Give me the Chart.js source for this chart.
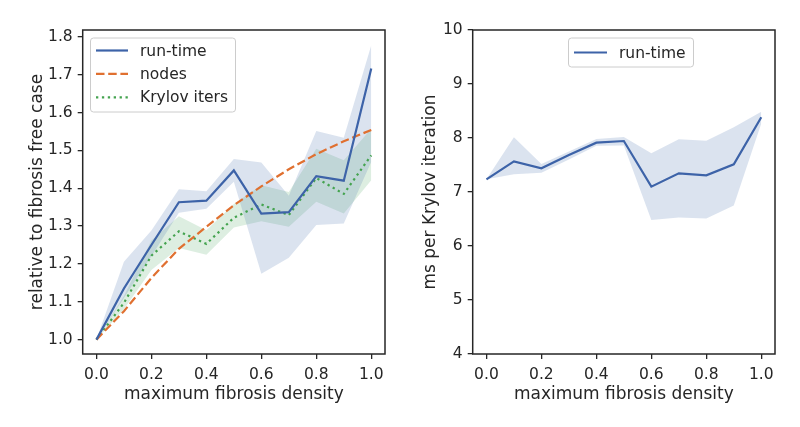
<!DOCTYPE html>
<html>
<head>
<meta charset="utf-8">
<script src="https://cdn.jsdelivr.net/npm/chart.js@4.4.1/dist/chart.umd.min.js"></script>
<style>
  body { margin: 0; background: #fff; }
  .panel { position: absolute; top: 0; width: 400px; height: 427px; }
</style>
</head>
<body>
<div class="panel" style="left:0"><canvas id="leftChart" width="400" height="427"></canvas></div>
<div class="panel" style="left:400px"><canvas id="rightChart" width="400" height="427"></canvas></div>
<script>
// maximum fibrosis density
const density = [0.0, 0.1, 0.2, 0.3, 0.4, 0.5, 0.6, 0.7, 0.8, 0.9, 1.0];

// left panel: relative to fibrosis free case
const runTime   = [1.0, 1.135, 1.25, 1.363, 1.367, 1.447, 1.333, 1.337, 1.432, 1.42, 1.716];
const runTimeHi = [1.0, 1.206, 1.288, 1.397, 1.392, 1.477, 1.468, 1.38, 1.551, 1.533, 1.778];
const runTimeLo = [1.0, 1.11, 1.22, 1.335, 1.346, 1.417, 1.174, 1.216, 1.303, 1.307, 1.47];
const nodes     = [1.0, 1.075, 1.163, 1.24, 1.298, 1.355, 1.405, 1.45, 1.49, 1.524, 1.554];
const krylov    = [1.0, 1.097, 1.222, 1.286, 1.253, 1.322, 1.357, 1.329, 1.427, 1.385, 1.487];
const krylovHi  = [1.0, 1.115, 1.262, 1.326, 1.289, 1.358, 1.408, 1.39, 1.504, 1.474, 1.557];
const krylovLo  = [1.0, 1.08, 1.184, 1.242, 1.224, 1.296, 1.313, 1.298, 1.364, 1.333, 1.421];

// right panel: ms per Krylov iteration
const msPerIter   = [7.235, 7.568, 7.438, 7.685, 7.914, 7.944, 7.099, 7.346, 7.309, 7.512, 8.383];
const msPerIterHi = [7.235, 8.012, 7.52, 7.75, 7.98, 8.02, 7.716, 7.975, 7.95, 8.198, 8.488];
const msPerIterLo = [7.235, 7.327, 7.358, 7.60, 7.858, 7.86, 6.48, 6.53, 6.51, 6.75, 8.27];

// tick labels
const xTicks = [0.0, 0.2, 0.4, 0.6, 0.8, 1.0];
const leftYTicks = [1.0, 1.1, 1.2, 1.3, 1.4, 1.5, 1.6, 1.7, 1.8];
const rightYTicks = [4, 5, 6, 7, 8, 9, 10];

const INK = '#262626';
const FONT = 'DejaVu Sans';
const BLUE = '#3d63a8';
const ORANGE = '#e07030';
const GREEN = '#44a34f';
const BLUE_BAND = 'rgba(76,114,176,0.2)';
const GREEN_BAND = 'rgba(85,168,104,0.2)';

function pts(ys) {
    return ys.map((y, i) => ({x: density[i], y: y}));
}

function line(label, ys, color, dash) {
    return {
        label: label, data: pts(ys), borderColor: color, borderWidth: 2.2,
        borderDash: dash || [], borderCapStyle: 'butt', pointRadius: 0,
        fill: false, tension: 0
    };
}

function band(hi, lo, color) {
    return [
        {label: '_hi', data: pts(hi), borderWidth: 0, pointRadius: 0, backgroundColor: color, fill: '+1'},
        {label: '_lo', data: pts(lo), borderWidth: 0, pointRadius: 0, fill: false}
    ];
}

// box around the plot area, like matplotlib spines
const framePlugin = {
    id: 'frame',
    afterDraw(chart) {
        const a = chart.chartArea, ctx = chart.ctx;
        ctx.save();
        ctx.strokeStyle = INK;
        ctx.lineWidth = 1.5;
        ctx.strokeRect(a.left, a.top, a.right - a.left, a.bottom - a.top);
        ctx.restore();
    }
};

// legend drawn inside the axes
const boxLegend = {
    id: 'boxLegend',
    afterDraw(chart, args, opts) {
        const ctx = chart.ctx;
        ctx.save();
        ctx.fillStyle = 'rgba(255,255,255,0.8)';
        ctx.strokeStyle = '#cccccc';
        ctx.lineWidth = 1;
        ctx.beginPath();
        ctx.roundRect(opts.x + 0.5, opts.y + 0.5, opts.w, opts.h, 3);
        ctx.fill();
        ctx.stroke();
        ctx.font = '15.5px "' + FONT + '"';
        ctx.textBaseline = 'middle';
        opts.items.forEach((it, i) => {
            const y = opts.rowY + i * opts.rowGap;
            ctx.strokeStyle = it.color;
            ctx.lineWidth = 2.2;
            ctx.setLineDash(it.dash || []);
            ctx.beginPath();
            ctx.moveTo(opts.hx0, y);
            ctx.lineTo(opts.hx1, y);
            ctx.stroke();
            ctx.setLineDash([]);
            ctx.fillStyle = INK;
            ctx.fillText(it.label, opts.tx, y + 1);
        });
        ctx.restore();
    }
};

function axisCommon(min, max, ticks, fmt, title, titlePad, fitFn, tickPad) {
    return {
        type: 'linear', min: min, max: max,
        afterBuildTicks: s => { s.ticks = ticks.map(v => ({value: v})); },
        afterFit: fitFn,
        border: {display: false},
        grid: {display: true, drawOnChartArea: false, drawTicks: true, tickLength: 5, color: INK, lineWidth: 1.3},
        ticks: {
            color: INK, padding: tickPad, maxRotation: 0, autoSkip: false,
            font: {family: FONT, size: 15.5},
            callback: v => fmt(v)
        },
        title: {display: true, text: title, color: INK, font: {family: FONT, size: 17}, padding: titlePad}
    };
}

function makeChart(id, datasets, yMin, yMax, yTicks, yFmt, yTitle, yTitlePad, yWidth, padRight, legendOpts) {
    return new Chart(document.getElementById(id), {
        type: 'line',
        data: {datasets: datasets},
        options: {
            responsive: false,
            animation: false,
            layout: {padding: {top: 30, right: padRight, left: 0, bottom: 0}},
            plugins: {
                legend: {display: false},
                tooltip: {enabled: false},
                boxLegend: legendOpts
            },
            scales: {
                x: axisCommon(-0.05, 1.05, xTicks, v => v.toFixed(1), 'maximum fibrosis density',
                    {top: 0, bottom: 22}, s => { s.height = 73; }, 7),
                y: axisCommon(yMin, yMax, yTicks, yFmt, yTitle, yTitlePad, s => { s.width = yWidth; }, 5)
            }
        },
        plugins: [framePlugin, boxLegend]
    });
}

makeChart('leftChart',
    [
        line('run-time', runTime, BLUE),
        line('nodes', nodes, ORANGE, [8.5, 3.7]),
        line('Krylov iters', krylov, GREEN, [2.3, 3.6]),
        ...band(runTimeHi, runTimeLo, BLUE_BAND),
        ...band(krylovHi, krylovLo, GREEN_BAND)
    ],
    0.962, 1.818, leftYTicks, v => v.toFixed(1), 'relative to fibrosis free case', {top: 27, bottom: 0},
    82.7, 15,
    {
        x: 90, y: 37.5, w: 145, h: 74, rowY: 50.5, rowGap: 23.4, hx0: 96, hx1: 128, tx: 140,
        items: [
            {label: 'run-time', color: BLUE},
            {label: 'nodes', color: ORANGE, dash: [8.5, 3.7]},
            {label: 'Krylov iters', color: GREEN, dash: [2.3, 3.6]}
        ]
    });

makeChart('rightChart',
    [
        line('run-time', msPerIter, BLUE),
        ...band(msPerIterHi, msPerIterLo, BLUE_BAND)
    ],
    4, 10, rightYTicks, v => String(v), 'ms per Krylov iteration', {top: 20, bottom: 0},
    72.7, 25,
    {
        x: 168, y: 37.5, w: 125, h: 29, rowY: 52.5, rowGap: 23.4, hx0: 174, hx1: 207, tx: 219,
        items: [
            {label: 'run-time', color: BLUE}
        ]
    });
</script>
</body>
</html>
